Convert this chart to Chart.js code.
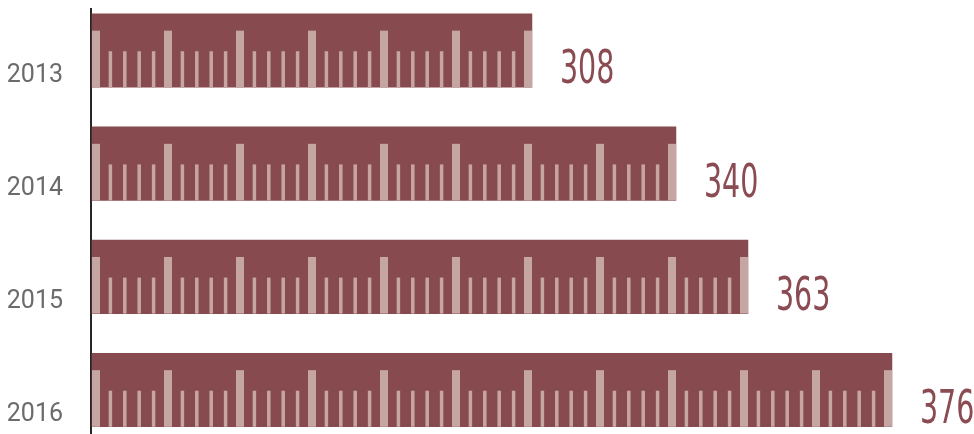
<!DOCTYPE html>
<html>
<head>
<meta charset="utf-8">
<title>Ruler bars</title>
<script src="https://cdn.jsdelivr.net/npm/chart.js@4/dist/chart.umd.min.js"></script>
<style>
  html, body { margin: 0; padding: 0; background: #fff; }
  #wrap { width: 974px; height: 434px; position: relative; }
</style>
</head>
<body>
<div id="wrap"><canvas id="chart"></canvas></div>
<script>
// chart data
const years = ['2013', '2014', '2015', '2016'];
const values = [308, 340, 363, 376];
// bar length in ruler segments, as drawn in the picture
const rulerLength = [6.11, 8.11, 9.11, 11.11];

const barColor = '#864a4f';
const markColor = '#c6a6a3';
const valueColor = '#8a4b52';

// draws the ruler marks, the axis line and the value labels
const rulerPlugin = {
  id: 'ruler',
  beforeDatasetsDraw(chart) {
    const ctx = chart.ctx;
    const area = chart.chartArea;
    ctx.save();
    ctx.fillStyle = '#262626';
    ctx.fillRect(area.left - 2, 8, 2, chart.height - 8);
    ctx.restore();
  },
  afterDatasetsDraw(chart) {
    const ctx = chart.ctx;
    const xScale = chart.scales.x;
    const meta = chart.getDatasetMeta(0);

    ctx.save();
    meta.data.forEach((bar, i) => {
      const p = bar.getProps(['x', 'y', 'base', 'height'], true);
      const top = p.y - p.height / 2;
      const bottom = p.y + p.height / 2;

      // ruler marks every 1/5 of a segment
      ctx.fillStyle = markColor;
      for (let j = 0; j / 5 <= rulerLength[i]; j++) {
        const centre = xScale.getPixelForValue(j / 5) + 4;
        const major = j % 5 === 0;
        const w = major ? 8 : 3.5;
        if (centre + w / 2 > p.x + 0.5) break;
        const markTop = top + p.height * (major ? 0.23 : 0.51);
        ctx.fillRect(centre - w / 2, markTop, w, bottom - markTop);
      }

      // value label, narrow tall digits
      ctx.save();
      ctx.fillStyle = valueColor;
      ctx.font = '46px "DejaVu Sans"';
      ctx.textBaseline = 'middle';
      ctx.translate(p.x + 28, p.y + 21);
      ctx.scale(0.62, 1);
      ctx.fillText(String(values[i]), 0, 0);
      ctx.restore();
    });
    ctx.restore();
  }
};

new Chart(document.getElementById('chart'), {
  type: 'bar',
  data: {
    labels: years,
    datasets: [{
      data: rulerLength,
      backgroundColor: barColor,
      borderWidth: 0,
      barThickness: 73.5,
      clip: false
    }]
  },
  options: {
    indexAxis: 'y',
    responsive: true,
    maintainAspectRatio: false,
    animation: false,
    layout: {
      padding: { top: 50.5, bottom: 40.7, left: 0, right: 18 }
    },
    plugins: {
      legend: { display: false },
      tooltip: { enabled: false }
    },
    scales: {
      x: {
        display: false,
        min: 0,
        max: 12
      },
      y: {
        offset: false,
        grid: { display: false, drawTicks: false, offset: false },
        border: { display: false },
        afterFit(scale) { scale.width = 92; },
        ticks: {
          color: '#6b6b6b',
          padding: 29,
          labelOffset: 25,
          font: { family: 'Roboto', size: 25 }
        }
      }
    }
  },
  plugins: [rulerPlugin]
});
</script>
</body>
</html>
